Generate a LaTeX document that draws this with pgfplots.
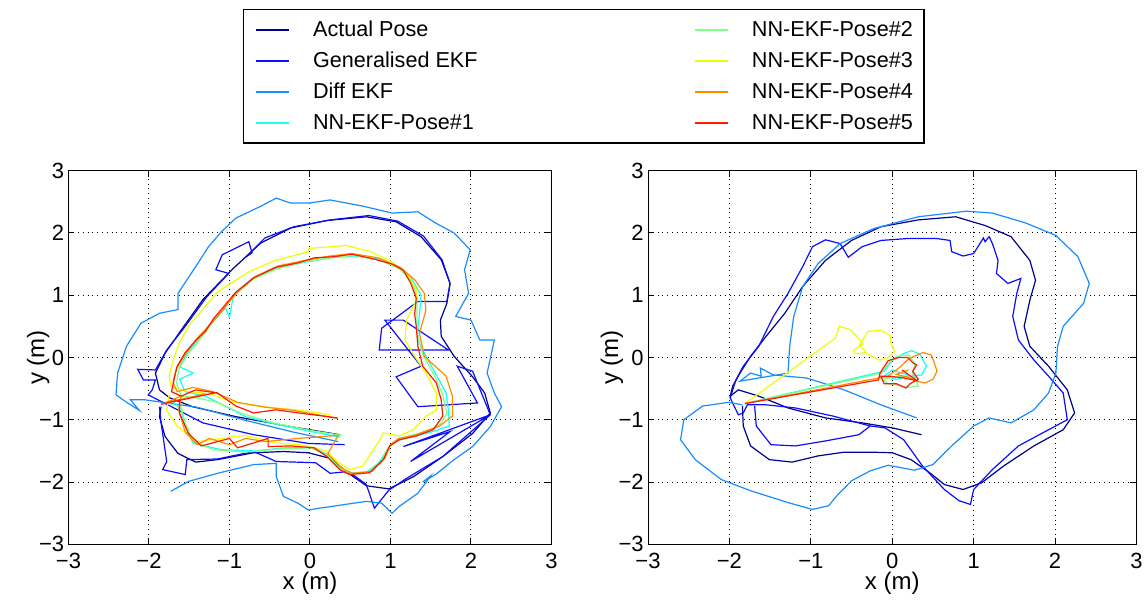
\documentclass[border=0pt]{standalone}
\usepackage{fontspec}
\setmainfont{Liberation Sans}
\usepackage{pgfplots}
\pgfplotsset{compat=1.18}

\definecolor{cActual}{rgb}{0,0,0.56}
\definecolor{cGen}{rgb}{0.05,0.05,1}
\definecolor{cDiff}{rgb}{0.1,0.55,1}
\definecolor{cNNa}{rgb}{0.1,1,0.95}
\definecolor{cNNb}{rgb}{0.5,1,0.5}
\definecolor{cNNc}{rgb}{0.93,1,0}
\definecolor{cNNd}{rgb}{1,0.55,0}
\definecolor{cNNe}{rgb}{1,0.1,0}

\pgfplotsset{
  traj/.style={
    scale only axis, height=186.8pt,
    xmin=-3, xmax=3, ymin=-3, ymax=3,
    xtick={-3,...,3}, ytick={-3,...,3},
    xticklabels={−3,−2,−1,0,1,2,3},
    yticklabels={−3,−2,−1,0,1,2,3},
    grid=major,
    major grid style={dotted, black, line width=0.5pt},
    tick align=inside, tick pos=both, major tick length=3pt,
    tick style={black, line width=0.5pt},
    axis line style={line width=0.5pt},
    ticklabel style={font=\fontsize{11}{13}\selectfont, inner sep=0pt},
    yticklabel style={xshift=-2pt},
    xticklabel style={yshift=-4.2pt},
    label style={font=\fontsize{12}{14}\selectfont},
    xlabel={x (m)}, ylabel={y (m)},
    xlabel style={at={(axis description cs:0.5,-0.104)}, anchor=center},
    every axis plot/.append style={line width=0.6pt},
  },
}

\begin{document}
\begin{tikzpicture}
\useasboundingbox (-34.25pt,-28.35pt) rectangle (539.75pt,272.15pt);

% left panel
\begin{axis}[traj, at={(0pt,0pt)}, width=241.5pt,
  ylabel style={at={(axis description cs:-0.063,0.5)}, anchor=center},
  legend columns=2, legend cell align=left,
  legend image code/.code={\draw[#1,line width=1pt] (0pt,0pt) -- (16.5pt,0pt);},
  legend style={at={(axis description cs:0.3613,1.4328)}, anchor=north west,
    draw=black, line width=0.7pt, inner xsep=5.5pt, inner ysep=4.9pt,
    font=\fontsize{10.8}{13}\selectfont, row sep=5.45pt,
    nodes={inner sep=0pt, text height=8.3pt, text depth=1.8pt},
    /tikz/every odd column/.append style={column sep=11.7pt},
    /tikz/every even column/.append style={column sep=108pt}},
]
\addlegendimage{cActual}\addlegendentry{Actual Pose}
\addlegendimage{cNNb}\addlegendentry{NN-EKF-Pose\#2}
\addlegendimage{cGen}\addlegendentry{Generalised EKF}
\addlegendimage{cNNc}\addlegendentry{NN-EKF-Pose\#3}
\addlegendimage{cDiff}\addlegendentry{Diff EKF}
\addlegendimage{cNNd}\addlegendentry{NN-EKF-Pose\#4}
\addlegendimage{cNNa}\addlegendentry{NN-EKF-Pose\#1}
\addlegendimage{cNNe}\addlegendentry{NN-EKF-Pose\#5}

% Actual Pose
\addplot[cActual, forget plot] coordinates {
(0.37,-1.24) (-0.24,-1.11) (-0.92,-0.95) (-1.46,-0.79) (-1.74,-0.65) (-1.87,-0.52)
(-1.92,-0.25) (-1.80,0.07) (-1.60,0.44) (-1.33,0.93) (-0.97,1.41) (-0.61,1.84)
(-0.24,2.08) (0.21,2.20) (0.70,2.26) (1.07,2.18) (1.38,1.94) (1.63,1.57) (1.74,1.19)
(1.70,0.87) (1.62,0.60) (1.63,0.34) (1.79,0.02) (2.02,-0.31) (2.17,-0.57) (2.24,-0.89)
(2.02,-1.22) (1.65,-1.59) (1.29,-1.91) (0.98,-2.11) (0.70,-2.06) (0.48,-1.86)
(0.25,-1.62) (-0.02,-1.53) (-0.33,-1.51) (-0.70,-1.53) (-1.15,-1.64) (-1.42,-1.68)
(-1.64,-1.54) (-1.80,-1.27) (-1.87,-0.95) (-1.85,-0.79)};
% Generalised EKF
\addplot[cGen, forget plot] coordinates {
(0.43,-1.40) (-0.02,-1.38) (-0.70,-1.24) (-1.33,-1.05) (-1.69,-0.81) (-2.01,-0.60)
(-1.96,-0.52) (-1.92,-0.36) (-2.07,-0.36) (-2.14,-0.19) (-1.92,-0.20) (-1.78,0.12)
(-1.55,0.50) (-1.28,0.98) (-1.01,1.35) (-1.17,1.41) (-1.09,1.65) (-0.76,1.86)
(-0.72,1.68) (-0.79,1.62) (-0.56,1.92) (-0.20,2.10) (0.25,2.21) (0.73,2.28)
(1.09,2.19) (1.41,1.95) (1.64,1.57) (1.74,1.19) (1.70,0.90) (1.34,0.90) (0.89,0.47)
(0.86,0.12) (1.72,0.12) (1.16,0.60) (0.93,0.60) (1.38,-0.14) (1.07,-0.31) (1.34,-0.79)
(2.08,-0.73) (1.83,-0.14) (2.02,-0.22) (2.24,-0.92) (1.16,-1.43) (1.74,-1.19)
(1.25,-1.67) (2.24,-0.92) (1.65,-1.59) (1.20,-1.94) (0.98,-2.13) (0.80,-2.42)
(0.70,-2.04) (0.48,-1.83) (0.25,-1.86) (0.07,-1.69) (-0.42,-1.67) (-0.70,-1.51)
(-1.15,-1.63) (-1.53,-1.64) (-1.55,-1.88) (-1.83,-1.80) (-1.78,-1.67) (-1.85,-1.05)
(-1.87,-0.79)};
% Diff EKF
\addplot[cDiff, forget plot] coordinates {
(0.35,-1.35) (-0.20,-1.20) (-0.83,-1.00) (-1.40,-0.80) (-1.78,-0.73) (-2.05,-0.68)
(-2.23,-0.68) (-2.12,-0.85) (-2.30,-0.70) (-2.41,-0.60) (-2.39,-0.25) (-2.28,0.18)
(-2.10,0.55) (-1.87,0.71) (-1.64,0.77) (-1.64,1.03) (-1.42,1.46) (-1.26,1.78)
(-1.10,2.02) (-0.92,2.24) (-0.61,2.43) (-0.42,2.56) (-0.24,2.48) (-0.02,2.48)
(0.25,2.53) (0.66,2.43) (1.02,2.32) (1.34,2.34) (1.56,2.16) (1.79,2.00) (1.99,1.73)
(1.92,1.41) (1.97,1.03) (1.81,0.66) (2.00,0.60) (2.11,0.28) (2.29,0.28) (2.20,-0.25)
(2.29,-0.57) (2.38,-0.79) (2.24,-1.11) (2.02,-1.43) (1.79,-1.64) (1.56,-1.88)
(1.40,-2.00) (1.50,-1.90) (1.34,-2.18) (1.11,-2.39) (1.02,-2.50) (0.89,-2.34)
(0.70,-2.31) (0.12,-2.42) (-0.02,-2.45) (-0.15,-2.34) (-0.33,-2.23) (-0.42,-1.91)
(-0.42,-1.70) (-0.70,-1.72) (-1.15,-1.86) (-1.51,-1.99) (-1.73,-2.15)};
% NN-EKF-Pose#1
\addplot[cNNa, forget plot] coordinates {
(0.38,-1.28) (0.05,-1.20) (-0.40,-1.08) (-0.80,-0.95) (-1.10,-0.75) (-1.30,-0.62)
(-1.55,-0.55) (-1.62,-0.35) (-1.45,-0.25) (-1.62,-0.15) (-1.52,0.08) (-1.38,0.30)
(-1.22,0.55) (-1.05,0.80) (-1.00,0.65) (-0.95,1.00) (-0.72,1.27) (-0.42,1.43)
(-0.10,1.52) (0.25,1.60) (0.55,1.63) (0.85,1.58) (1.10,1.45) (1.27,1.25) (1.38,1.00)
(1.36,0.70) (1.34,0.45) (1.34,0.28) (1.45,0.00) (1.60,-0.35) (1.69,-0.57) (1.72,-0.85)
(1.73,-1.10) (1.50,-1.20) (1.25,-1.28) (1.05,-1.35) (0.95,-1.50) (0.85,-1.70)
(0.70,-1.84) (0.50,-1.85) (0.35,-1.75) (0.20,-1.55) (0.05,-1.45) (-0.30,-1.45)
(-0.70,-1.50) (-1.10,-1.48) (-1.45,-1.38) (-1.55,-1.10) (-1.60,-0.85) (-1.70,-0.70)};
% NN-EKF-Pose#2
\addplot[cNNb, forget plot] coordinates {
(0.40,-1.25) (0.00,-1.17) (-0.45,-1.05) (-0.85,-0.90) (-1.15,-0.72) (-1.40,-0.65)
(-1.60,-0.62) (-1.66,-0.40) (-1.62,-0.15) (-1.50,0.08) (-1.35,0.32) (-1.20,0.58)
(-1.05,0.82) (-0.92,1.02) (-0.70,1.26) (-0.42,1.42) (-0.10,1.53) (0.25,1.60)
(0.55,1.64) (0.85,1.57) (1.12,1.42) (1.26,1.22) (1.33,0.97) (1.33,0.70) (1.33,0.40)
(1.40,0.05) (1.55,-0.30) (1.65,-0.60) (1.70,-0.90) (1.60,-1.10) (1.35,-1.22)
(1.10,-1.30) (0.97,-1.45) (0.88,-1.68) (0.72,-1.84) (0.50,-1.86) (0.35,-1.76)
(0.20,-1.56) (0.00,-1.45) (-0.40,-1.47) (-0.80,-1.52) (-1.20,-1.48) (-1.45,-1.35)
(-1.55,-1.05) (-1.60,-0.80) (-1.80,-0.72)};
% NN-EKF-Pose#3
\addplot[cNNc, forget plot] coordinates {
(0.25,-0.92) (-0.10,-0.85) (-0.50,-0.80) (-0.95,-0.72) (-1.25,-0.58) (-1.50,-0.55)
(-1.72,-0.48) (-1.75,-0.30) (-1.70,-0.05) (-1.62,0.25) (-1.50,0.52) (-1.35,0.75)
(-1.15,1.05) (-1.00,1.18) (-0.75,1.38) (-0.45,1.55) (-0.02,1.70) (-0.02,1.75)
(0.45,1.80) (0.75,1.70) (1.00,1.55) (1.20,1.35) (1.32,1.10) (1.32,0.92) (1.20,0.60)
(1.18,0.28) (1.30,0.02) (1.44,-0.25) (1.57,-0.57) (1.57,-0.84) (1.44,-0.94)
(1.28,-1.16) (1.11,-1.26) (0.91,-1.21) (0.87,-1.32) (0.76,-1.53) (0.66,-1.74)
(0.49,-1.80) (0.35,-1.68) (0.20,-1.50) (-0.10,-1.40) (-0.40,-1.38) (-0.80,-1.25)
(-1.10,-1.30) (-1.40,-1.35) (-1.65,-1.10) (-1.78,-0.85) (-1.75,-0.60)};
% NN-EKF-Pose#4
\addplot[cNNd, forget plot] coordinates {
(0.35,-0.98) (0.10,-0.92) (-0.25,-0.84) (-0.55,-0.80) (-0.90,-0.72) (-1.20,-0.55)
(-1.45,-0.48) (-1.65,-0.55) (-1.70,-0.40) (-1.66,-0.18) (-1.55,0.05) (-1.42,0.28)
(-1.28,0.48) (-1.12,0.70) (-1.00,0.90) (-0.88,1.08) (-0.68,1.30) (-0.40,1.47)
(-0.10,1.55) (0.25,1.63) (0.52,1.67) (0.85,1.60) (1.12,1.45) (1.30,1.25) (1.42,1.03)
(1.44,0.76) (1.36,0.39) (1.42,0.02) (1.69,-0.30) (1.77,-0.62) (1.77,-0.94)
(1.61,-1.10) (1.30,-1.25) (1.10,-1.30) (1.00,-1.40) (0.93,-1.62) (0.77,-1.83)
(0.52,-1.86) (0.40,-1.78) (0.22,-1.55) (0.35,-1.25) (-0.15,-1.30) (-0.55,-1.35)
(-0.80,-1.30) (-1.00,-1.40) (-1.25,-1.30) (-1.40,-1.40) (-1.55,-1.20) (-1.63,-0.85)
(-1.60,-0.62) (-1.82,-0.74) (-1.30,-0.58)};
% NN-EKF-Pose#5
\addplot[cNNe, forget plot] coordinates {
(0.34,-0.97) (0.10,-0.93) (-0.20,-0.88) (-0.42,-0.84) (-0.70,-0.89) (-0.92,-0.78)
(-1.15,-0.57) (-1.42,-0.52) (-1.60,-0.62) (-1.72,-0.55) (-1.68,-0.30) (-1.65,-0.14)
(-1.55,0.08) (-1.40,0.30) (-1.30,0.42) (-1.20,0.62) (-1.05,0.85) (-0.92,1.05)
(-0.70,1.28) (-0.42,1.45) (-0.15,1.52) (0.05,1.60) (0.30,1.62) (0.52,1.66) (0.80,1.58)
(1.02,1.50) (1.16,1.40) (1.25,1.20) (1.32,0.95) (1.30,0.70) (1.32,0.50) (1.34,0.18)
(1.40,-0.14) (1.57,-0.41) (1.63,-0.68) (1.65,-0.94) (1.53,-1.16) (1.32,-1.26)
(1.11,-1.32) (0.99,-1.42) (0.91,-1.64) (0.74,-1.85) (0.49,-1.88) (0.37,-1.80)
(0.21,-1.59) (0.05,-1.45) (-0.24,-1.42) (-0.52,-1.43) (-0.52,-1.30) (-0.90,-1.45)
(-1.00,-1.30) (-1.35,-1.42) (-1.51,-1.22) (-1.62,-0.90) (-1.62,-0.68) (-1.85,-0.75)
(-1.15,-0.56)};
\end{axis}

% right panel
\begin{axis}[traj, at={(289.75pt,0pt)}, width=244.25pt,
  ylabel style={at={(axis description cs:-0.074,0.5)}, anchor=center},
]
% Actual Pose
\addplot[cActual] coordinates {
(0.36,-1.24) (0.00,-1.13) (-0.37,-1.05) (-0.82,-0.97) (-1.28,-0.81) (-1.64,-0.62)
(-1.89,-0.52) (-1.99,-0.62) (-1.96,-0.46) (-1.87,-0.25) (-1.74,0.02) (-1.55,0.34)
(-1.32,0.71) (-1.10,1.14) (-0.82,1.56) (-0.50,1.88) (-0.14,2.10) (0.32,2.21)
(0.78,2.26) (1.14,2.12) (1.46,1.94) (1.69,1.56) (1.76,1.24) (1.69,0.92) (1.62,0.50)
(1.69,0.18) (1.92,-0.14) (2.15,-0.52) (2.24,-0.89) (2.10,-1.16) (1.74,-1.42)
(1.37,-1.74) (1.10,-2.01) (0.87,-2.12) (0.64,-2.04) (0.46,-1.85) (0.23,-1.64)
(0.00,-1.53) (-0.27,-1.52) (-0.59,-1.52) (-0.91,-1.58) (-1.23,-1.68) (-1.51,-1.64)
(-1.74,-1.42) (-1.83,-1.10) (-1.84,-0.78)};
% Generalised EKF
\addplot[cGen] coordinates {
(-1.69,-0.78) (-1.67,-1.10) (-1.49,-1.40) (-1.19,-1.42) (-0.82,-1.34) (-0.41,-1.24)
(-0.27,-1.10) (-0.09,-1.13) (0.14,-1.32) (0.37,-1.74) (0.64,-2.12) (0.82,-2.30)
(0.96,-2.36) (1.00,-2.12) (1.23,-1.80) (1.55,-1.42) (1.92,-1.16) (2.15,-1.00)
(2.10,-0.57) (1.92,-0.30) (1.74,-0.04) (1.55,0.28) (1.48,0.66) (1.53,1.03)
(1.58,1.27) (1.42,1.19) (1.28,1.35) (1.30,1.56) (1.23,1.83) (1.19,1.94) (1.14,1.86)
(1.12,1.92) (1.00,1.67) (0.87,1.63) (0.73,1.70) (0.71,1.88) (0.55,1.91) (0.18,1.91)
(-0.14,1.88) (-0.37,1.78) (-0.54,1.61) (-0.64,1.83) (-0.82,1.89) (-0.98,1.78)
(-1.10,1.46) (-1.28,1.03) (-1.46,0.66) (-1.64,0.18) (-1.83,-0.14) (-1.92,-0.36)
(-1.99,-0.65) (-1.89,-0.92) (-1.83,-0.89) (-1.78,-0.76) (-1.55,-0.76) (-1.19,-0.81)
(-0.73,-0.94) (-0.27,-1.10)};
% Diff EKF
\addplot[cDiff] coordinates {
(0.30,-0.97) (-0.14,-0.76) (-0.59,-0.52) (-1.05,-0.33) (-1.46,-0.28) (-1.62,-0.17)
(-1.61,-0.30) (-1.74,-0.25) (-1.87,-0.38) (-1.28,-0.25) (-1.26,0.18) (-1.21,0.66)
(-1.10,1.14) (-0.91,1.51) (-0.64,1.83) (-0.23,2.07) (0.32,2.26) (0.91,2.35)
(1.23,2.32) (1.64,2.16) (2.01,1.96) (2.28,1.62) (2.42,1.19) (2.35,0.87) (2.10,0.50)
(2.03,0.18) (2.01,-0.25) (1.92,-0.57) (1.74,-0.84) (1.46,-1.05) (1.19,-0.97)
(1.00,-1.10) (0.73,-1.42) (0.50,-1.72) (0.27,-1.81) (-0.05,-1.73) (-0.27,-1.82)
(-0.50,-1.98) (-0.68,-2.22) (-0.78,-2.38) (-0.98,-2.44) (-1.28,-2.33) (-1.74,-2.14)
(-2.10,-1.96) (-2.42,-1.64) (-2.60,-1.32) (-2.56,-1.00) (-2.33,-0.78) (-2.01,-0.72)
(-1.84,-0.76)};
% NN-EKF-Pose#1
\addplot[cNNa] coordinates {
(-1.81,-0.74) (-0.10,-0.22) (0.00,-0.05) (0.15,0.07) (0.24,0.11) (0.34,0.05)
(0.42,-0.14) (0.36,-0.28) (0.20,-0.30) (0.05,-0.35) (-0.10,-0.30) (0.00,-0.20)
(0.30,-0.33)};
% NN-EKF-Pose#2
\addplot[cNNb] coordinates {
(-1.81,-0.74) (-0.13,-0.25) (-0.05,-0.10) (0.05,0.02) (0.20,0.04) (0.28,-0.10)
(0.25,-0.25) (0.32,-0.46) (0.18,-0.48) (0.05,-0.44) (-0.05,-0.42) (-0.12,-0.35)
(0.00,-0.32) (0.20,-0.30)};
% NN-EKF-Pose#3
\addplot[cNNc] coordinates {
(-1.81,-0.74) (-0.70,0.31) (-0.65,0.50) (-0.52,0.45) (-0.42,0.32) (-0.36,0.22)
(-0.47,0.12) (-0.46,0.06) (-0.32,0.08) (-0.40,0.20) (-0.30,0.42) (-0.15,0.44)
(-0.03,0.36) (-0.02,0.25) (0.03,0.10) (-0.05,0.00) (-0.16,-0.04) (-0.25,0.02)
(-0.30,0.05)};
% NN-EKF-Pose#4
\addplot[cNNd] coordinates {
(-1.81,-0.74) (-0.05,-0.30) (0.10,-0.15) (0.20,-0.02) (0.38,0.08) (0.48,0.04)
(0.52,-0.10) (0.55,-0.22) (0.50,-0.35) (0.40,-0.41) (0.30,-0.38) (0.20,-0.32)
(0.05,-0.27) (0.20,-0.20)};
% NN-EKF-Pose#5
\addplot[cNNe] coordinates {
(-1.81,-0.74) (-0.17,-0.36) (-0.15,-0.25) (-0.05,-0.05) (0.08,0.00) (0.19,0.00)
(0.25,-0.08) (0.30,-0.12) (0.25,-0.22) (0.32,-0.35) (0.22,-0.42) (0.17,-0.49)
(0.05,-0.42) (-0.10,-0.42) (-0.14,-0.30) (-0.05,-0.30) (0.10,-0.32) (0.30,-0.37)
(0.12,-0.20)};
\end{axis}
\end{tikzpicture}
\end{document}
